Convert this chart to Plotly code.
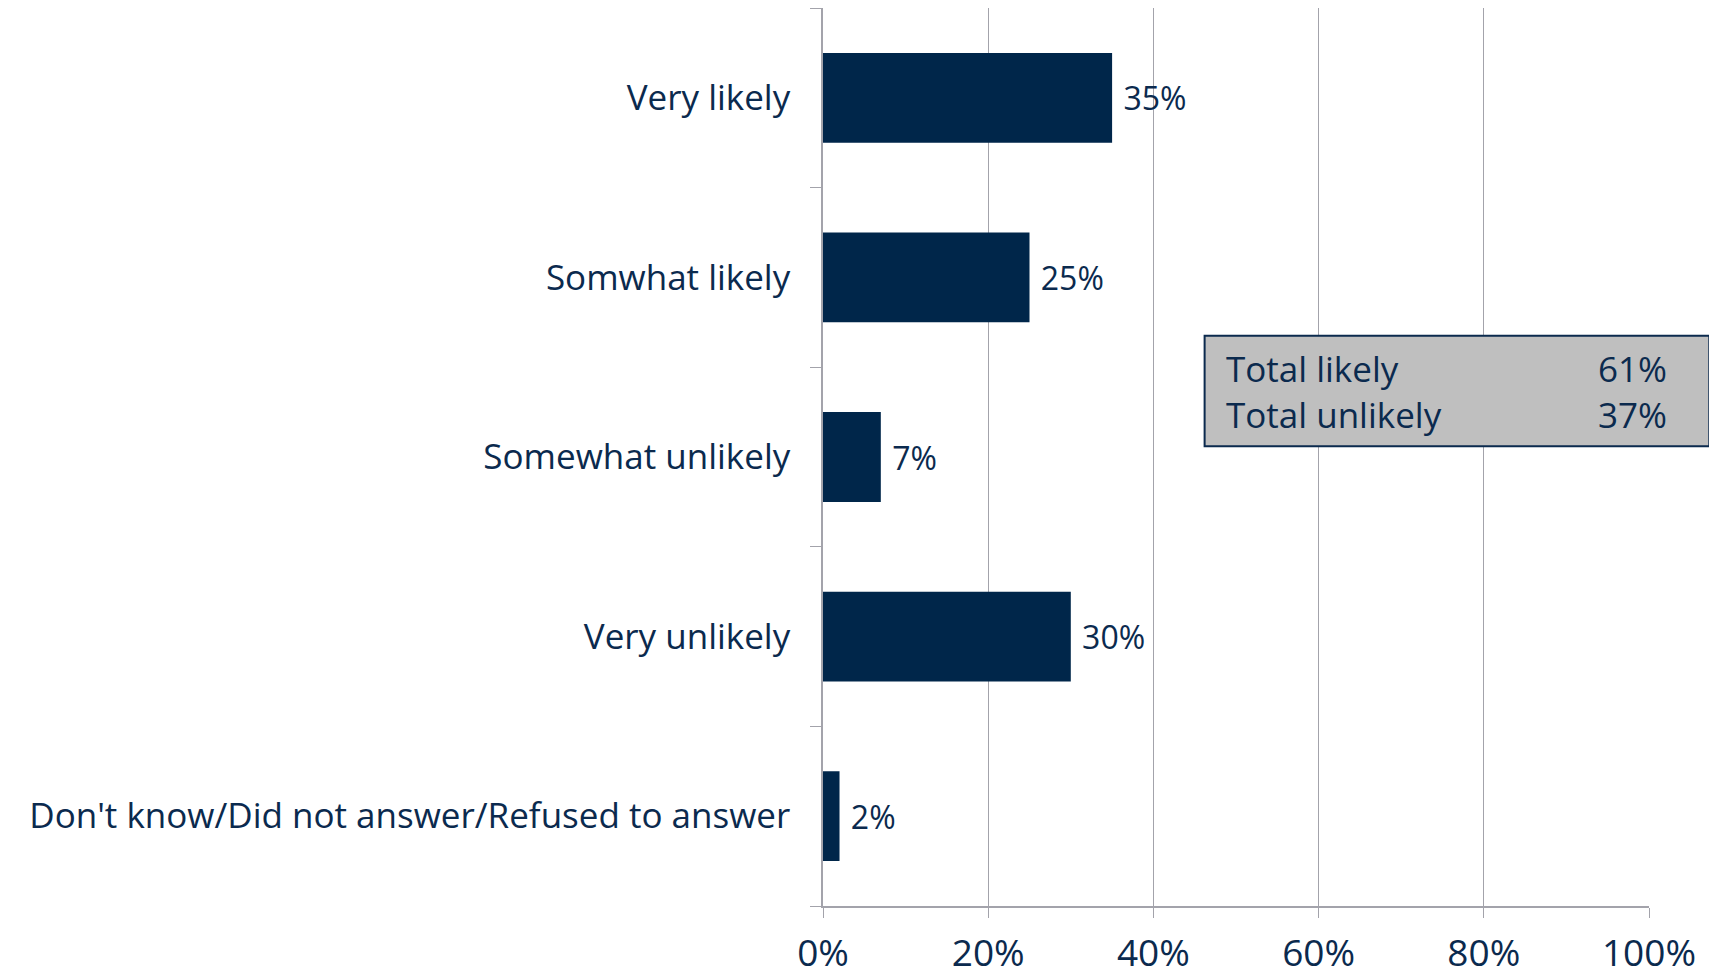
import plotly.graph_objects as go

categories = ["Very likely", "Somwhat likely", "Somewhat unlikely", "Very unlikely",
              "Don't know/Did not answer/Refused to answer"]
values = [35, 25, 7, 30, 2]
value_labels = ["35%", "25%", "7%", "30%", "2%"]
x_ticks = [0, 20, 40, 60, 80, 100]
x_tick_labels = ["0%", "20%", "40%", "60%", "80%", "100%"]
summary_names = ["Total likely", "Total unlikely"]
summary_values = ["61%", "37%"]

NAVY = "#00264A"
TEXT = "#0B2A4E"
GRID = "#A3A3AB"
FONT = "Open Sans"

fig = go.Figure(go.Bar(
    x=values, y=categories, orientation="h",
    marker=dict(color=NAVY, line=dict(width=0)),
    text=value_labels, texttemplate=" %{text}", textposition="outside",
    textfont=dict(family=FONT, size=32, color=TEXT),
    cliponaxis=False,
))

fig.update_layout(
    width=1709, height=970,
    margin=dict(l=815, r=68, t=0, b=72),
    plot_bgcolor="white", paper_bgcolor="white",
    bargap=0.5, showlegend=False,
    xaxis=dict(range=[0, 100], tickvals=x_ticks, ticktext=x_tick_labels,
               showgrid=True, gridcolor=GRID, gridwidth=1, zeroline=False,
               showline=True, linecolor=GRID, linewidth=1.5,
               ticks="outside", ticklen=10, tickcolor=GRID, automargin=False,
               ticklabelstandoff=4,
               tickfont=dict(family=FONT, size=37, color=TEXT)),
    yaxis=dict(categoryorder="array", categoryarray=categories[::-1],
               showline=True, linecolor=GRID, linewidth=1.5, showgrid=False,
               ticks="outside", ticklen=11, tickcolor=GRID, tickson="boundaries",
               ticklabelstandoff=24, automargin=False,
               tickfont=dict(family=FONT, size=35, color=TEXT)),
)

fig.add_shape(type="rect", xref="paper", yref="paper", x0=0.462, x1=1.073, y0=0.512, y1=0.635,
              fillcolor="#BFBFBF", line=dict(color="#0B2A4E", width=2), layer="above")
fig.add_annotation(xref="paper", yref="paper", x=0.486, y=0.5725, text="<br>".join(summary_names),
                   showarrow=False, xanchor="left", yanchor="middle", align="left",
                   font=dict(family=FONT, size=35, color=TEXT))
fig.add_annotation(xref="paper", yref="paper", x=1.024, y=0.5725, text="<br>".join(summary_values),
                   showarrow=False, xanchor="right", yanchor="middle", align="right",
                   font=dict(family=FONT, size=35, color=TEXT))

fig.write_html("out.html")
